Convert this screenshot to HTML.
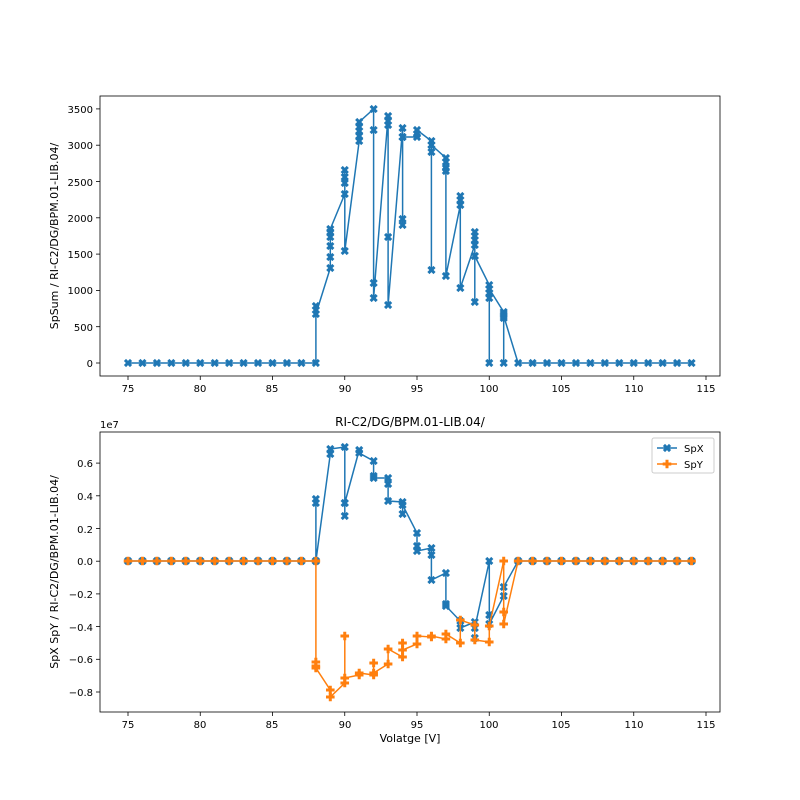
<!DOCTYPE html>
<html><head><meta charset="utf-8"><style>
body{margin:0;background:#fff}
svg{display:block;font-family:"DejaVu Sans","Liberation Sans",sans-serif;font-size:10px}
</style></head><body>
<svg id="s" width="800" height="800" xmlns="http://www.w3.org/2000/svg">
<rect width="800" height="800" fill="#fff"/>
<g id="plots"></g>
<rect x="100" y="96" width="620" height="280" fill="none" stroke="#000" stroke-width="0.8"/>
<rect x="100" y="432" width="620" height="280" fill="none" stroke="#000" stroke-width="0.8"/>
<g id="ticks" stroke="#000" stroke-width="0.8"></g>
<g text-anchor="middle">
<text x="128" y="392">75</text><text x="200" y="392">80</text><text x="272" y="392">85</text><text x="345" y="392">90</text><text x="417" y="392">95</text><text x="489" y="392">100</text><text x="561" y="392">105</text><text x="634" y="392">110</text><text x="706" y="392">115</text>
<text x="128" y="728">75</text><text x="200" y="728">80</text><text x="272" y="728">85</text><text x="345" y="728">90</text><text x="417" y="728">95</text><text x="489" y="728">100</text><text x="561" y="728">105</text><text x="634" y="728">110</text><text x="706" y="728">115</text>
<text x="410" y="742" font-size="11">Volatge [V]</text>
<text x="410" y="426" font-size="12">RI-C2/DG/BPM.01-LIB.04/</text>
</g>
<g text-anchor="end">
<text x="93" y="367">0</text><text x="93" y="331">500</text><text x="93" y="294">1000</text><text x="93" y="258">1500</text><text x="93" y="222">2000</text><text x="93" y="186">2500</text><text x="93" y="149">3000</text><text x="93" y="113">3500</text>
<text x="93" y="696">−0.8</text><text x="93" y="663">−0.6</text><text x="93" y="631">−0.4</text><text x="93" y="598">−0.2</text><text x="93" y="565">0.0</text><text x="93" y="533">0.2</text><text x="93" y="500">0.4</text><text x="93" y="467">0.6</text>
</g>
<text x="100" y="428">1e7</text>
<text transform="translate(58,236) rotate(-90)" text-anchor="middle" font-size="11">SpSum / RI-C2/DG/BPM.01-LIB.04/</text>
<text transform="translate(58,572) rotate(-90)" text-anchor="middle" font-size="11">SpX SpY / RI-C2/DG/BPM.01-LIB.04/</text>
<g>
<rect x="652" y="438" width="62" height="35" fill="#fff" stroke="#ccc" rx="2"/>
<line x1="657" y1="448" x2="677" y2="448" stroke="#1f77b4" stroke-width="1.5"/>
<line x1="657" y1="464" x2="677" y2="464" stroke="#ff7f0e" stroke-width="1.5"/>
<text x="684" y="452">SpX</text><text x="684" y="468">SpY</text>
<g id="leg"></g>
</g>
</svg>
<script>
var X=v=>128+14.45*(v-75);
var top0=[],bx=[],by=[];
function flat(a,y){for(var v=75;v<88;v++)a.push([v,y]);}
flat(top0,363);
top0=top0.concat([[88,363],[88,306],[88,310],[88,314],[89,268],[89,257],[89,246],[89,237],[89,232],[89,229],[90,194],[90,170],[90,177],[90,183],[90,251],[91,141],[91,136],[91,131],[91,127],[91,122],[92,109],[92,130],[92,283],[92,298],[93,116],[93,121],[93,125],[93,237],[93,305],[94,128],[94,137],[94,219],[94,225],[94,137],[95,137],[95,134],[95,130],[96,141],[96,145],[96,152],[96,270],[96,145],[97,158],[97,162],[97,168],[97,171],[97,276],[98,205],[98,200],[98,196],[98,288],[99,245],[99,240],[99,236],[99,232],[99,256],[99,302],[99,256],[100,285],[100,289],[100,293],[100,298],[100,363],[100,289],[101,312],[101,314],[101,318],[101,363],[101,316],[102,363]]);
for(var v=103;v<115;v++)top0.push([v,363]);
flat(bx,561);
bx=bx.concat([[88,561],[88,499],[88,503],[88,561],[89,454],[89,449],[90,447],[90,503],[90,516],[90,503],[91,450],[91,453],[92,461],[92,476],[92,478],[93,478],[93,484],[93,501],[94,502],[94,514],[94,505],[95,533],[95,546],[95,551],[96,548],[96,555],[96,580],[97,573],[97,604],[97,606],[98,621],[98,628],[99,622],[99,638],[99,628],[100,561],[100,615],[100,624],[101,596],[101,587],[102,561]]);
for(var v=103;v<115;v++)bx.push([v,561]);
flat(by,561);
by=by.concat([[88,561],[88,662],[88,666],[88,668],[89,690],[89,697],[90,683],[90,636],[90,678],[91,675],[91,673],[92,675],[92,663],[92,673],[93,664],[93,649],[94,657],[94,643],[94,650],[95,644],[95,636],[96,637],[96,636],[97,639],[97,634],[98,643],[98,620],[99,625],[99,640],[100,642],[100,626],[101,561],[101,612],[101,624],[102,561]]);
for(var v=103;v<115;v++)by.push([v,561]);
var g=document.getElementById('plots'),h='';
function line(a,c){h+='<polyline fill="none" stroke="'+c+'" stroke-width="1.5" points="'+a.map(p=>X(p[0]).toFixed(1)+','+p[1]).join(' ')+'"/>';}
var M="M-1.5,-4.3H1.5V-1.5H4.3V1.5H1.5V4.3H-1.5V1.5H-4.3V-1.5H-1.5Z";
function xm(x,y,c){h+='<path transform="translate('+x+','+y+') rotate(45)" fill="'+c+'" d="'+M+'"/>';}
function pm(x,y,c){h+='<path transform="translate('+x+','+y+')" fill="'+c+'" d="'+M+'"/>';}
line(top0,'#1f77b4');top0.forEach(p=>xm(X(p[0]),p[1],'#1f77b4'));
line(bx,'#1f77b4');bx.forEach(p=>xm(X(p[0]),p[1],'#1f77b4'));
line(by,'#ff7f0e');by.forEach(p=>pm(X(p[0]),p[1],'#ff7f0e'));
g.innerHTML=h;
h='';xm(667,448,'#1f77b4');pm(667,464,'#ff7f0e');document.getElementById('leg').innerHTML=h;
var t='';
[75,80,85,90,95,100,105,110,115].forEach(v=>{var x=X(v);t+='<line x1="'+x+'" y1="376" x2="'+x+'" y2="380"/><line x1="'+x+'" y1="712" x2="'+x+'" y2="716"/>';});
for(var i=0;i<8;i++){var y=363-i*36.3;t+='<line x1="96" y1="'+y+'" x2="100" y2="'+y+'"/>';var y2=692-i*32.7;t+='<line x1="96" y1="'+y2+'" x2="100" y2="'+y2+'"/>';}
document.getElementById('ticks').innerHTML=t;
</script>
</body></html>
